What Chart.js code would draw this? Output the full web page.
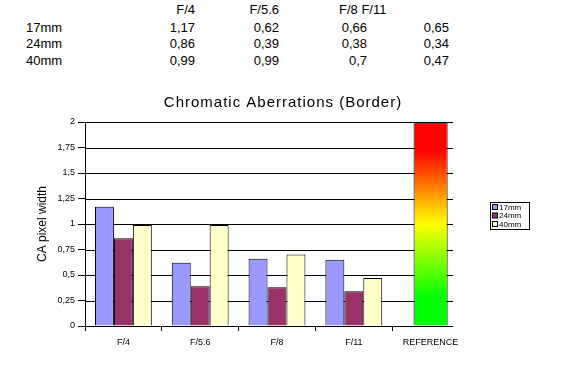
<!DOCTYPE html>
<html>
<head>
<meta charset="utf-8">
<script src="https://cdn.jsdelivr.net/npm/chart.js@4"></script>
<style>
  body { margin: 0; background: #fff; }
  #wrap { position: relative; width: 566px; height: 365px; font-family: "Liberation Sans", Arial, sans-serif; }
  #tbl span { position: absolute; font-size: 13px; line-height: 15px; white-space: nowrap; color: #000; }
  canvas { position: absolute; left: 0; top: 0; }
</style>
</head>
<body>
<div id="wrap">
  <div id="tbl"></div>
  <canvas id="myChart" width="566" height="365"></canvas>
</div>
<script>
const categories = ['F/4', 'F/5.6', 'F/8', 'F/11', 'REFERENCE'];
const seriesNames = ['17mm', '24mm', '40mm'];
const ca17 = [1.17, 0.62, 0.66, 0.65];
const ca24 = [0.86, 0.39, 0.38, 0.34];
const ca40 = [0.99, 0.99, 0.7, 0.47];
const referenceValue = 2;
const tableHeaders = ['F/4', 'F/5.6', 'F/8 F/11'];

const comma = v => String(v).replace('.', ',');
const FONT = '"Liberation Sans", Arial, sans-serif';

// little spreadsheet table on top
const tbl = document.getElementById('tbl');
function put(text, x, y, right) {
  const s = document.createElement('span');
  s.textContent = text;
  s.style.top = y + 'px';
  if (right) s.style.right = (566 - x) + 'px'; else s.style.left = x + 'px';
  tbl.appendChild(s);
}
const colRight = [195, 279, 367, 449];
put(tableHeaders[0], 195, 2, true);
put(tableHeaders[1], 279, 2, true);
put(tableHeaders[2], 339, 2, false);
[ca17, ca24, ca40].forEach((vals, r) => {
  const y = 19.5 + r * 16.5;
  put(seriesNames[r], 26, y, false);
  vals.forEach((v, i) => put(comma(v), colRight[i], y, true));
});

const colors = ['#9999ff', '#993366', '#ffffcc'];
const gridRight = 453; // plot frame stops before the last category ends

// horizontal grid lines, taken from the y scale ticks
const gridLines = {
  id: 'gridLines',
  beforeDatasetsDraw(chart) {
    const c = chart.ctx, y = chart.scales.y, a = chart.chartArea;
    c.save();
    c.strokeStyle = '#000';
    c.lineWidth = 1;
    y.ticks.forEach(t => {
      const py = Math.round(y.getPixelForValue(t.value)) + 0.5;
      c.beginPath();
      c.moveTo(a.left, py);
      c.lineTo(gridRight, py);
      c.stroke();
    });
    c.restore();
  }
};

const extras = {
  id: 'extras',
  afterDraw(chart) {
    const c = chart.ctx;
    c.save();
    c.fillStyle = '#000';
    c.font = '15px ' + FONT;
    c.letterSpacing = '1px';
    c.textAlign = 'center';
    c.textBaseline = 'middle';
    c.fillText('Chromatic Aberrations (Border)', 283, 103);
    c.letterSpacing = '0px';

    // legend box
    c.strokeStyle = '#000';
    c.lineWidth = 1;
    c.strokeRect(490.5, 202.5, 39, 27);
    c.font = '8px ' + FONT;
    c.textAlign = 'left';
    seriesNames.forEach((n, i) => {
      const y = 204.5 + i * 8.5;
      c.fillStyle = colors[i];
      c.fillRect(492.5, y, 5, 5);
      c.strokeRect(492.5, y, 5, 5);
      c.fillStyle = '#000';
      c.fillText(n, 499, y + 3);
    });
    c.restore();
  }
};

const ctx = document.getElementById('myChart').getContext('2d');
new Chart(ctx, {
  type: 'bar',
  data: {
    labels: categories,
    datasets: [
      { label: seriesNames[0], data: [...ca17, null], backgroundColor: colors[0] },
      { label: seriesNames[1], data: [...ca24, null], backgroundColor: colors[1] },
      { label: seriesNames[2], data: [...ca40, null], backgroundColor: colors[2] },
      {
        label: 'REFERENCE',
        data: [null, null, null, null, referenceValue],
        barPercentage: 0.6,
        backgroundColor(c) {
          const a = c.chart.chartArea;
          if (!a) return '#00ff00';
          const g = c.chart.ctx.createLinearGradient(0, a.bottom, 0, a.top);
          g.addColorStop(0, '#00ff00');
          g.addColorStop(0.14, '#00ff00');
          g.addColorStop(0.5, '#ffff00');
          g.addColorStop(0.86, '#ff0000');
          g.addColorStop(1, '#ff0000');
          return g;
        }
      }
    ]
  },
  options: {
    responsive: false,
    animation: false,
    layout: { padding: { left: 0, right: 97, top: 122, bottom: 0 } },
    datasets: {
      bar: { skipNull: true, borderColor: '#000', borderWidth: 1, categoryPercentage: 0.74, barPercentage: 1 }
    },
    plugins: { legend: { display: false }, title: { display: false }, tooltip: { enabled: false } },
    font: { family: FONT },
    scales: {
      x: {
        grid: {
          drawOnChartArea: false, tickLength: 5, offset: true,
          color: c => (c.tick ? '#000' : 'rgba(0,0,0,0)')
        },
        border: { display: false },
        ticks: { color: '#000', font: { size: 9 }, padding: 6, maxRotation: 0 },
        afterFit(s) { s.height = 39; }
      },
      y: {
        min: 0,
        max: 2,
        ticks: { stepSize: 0.25, color: '#000', font: { size: 9 }, padding: 3, callback: v => comma(v) },
        grid: { drawOnChartArea: false, color: '#000', tickLength: 7 },
        border: { color: '#000' },
        title: { display: true, text: 'CA pixel width', color: '#000', font: { size: 12 }, padding: { top: 35, bottom: 0 } },
        afterFit(s) { s.width = 85; }
      }
    }
  },
  plugins: [gridLines, extras]
});
</script>
</body>
</html>
